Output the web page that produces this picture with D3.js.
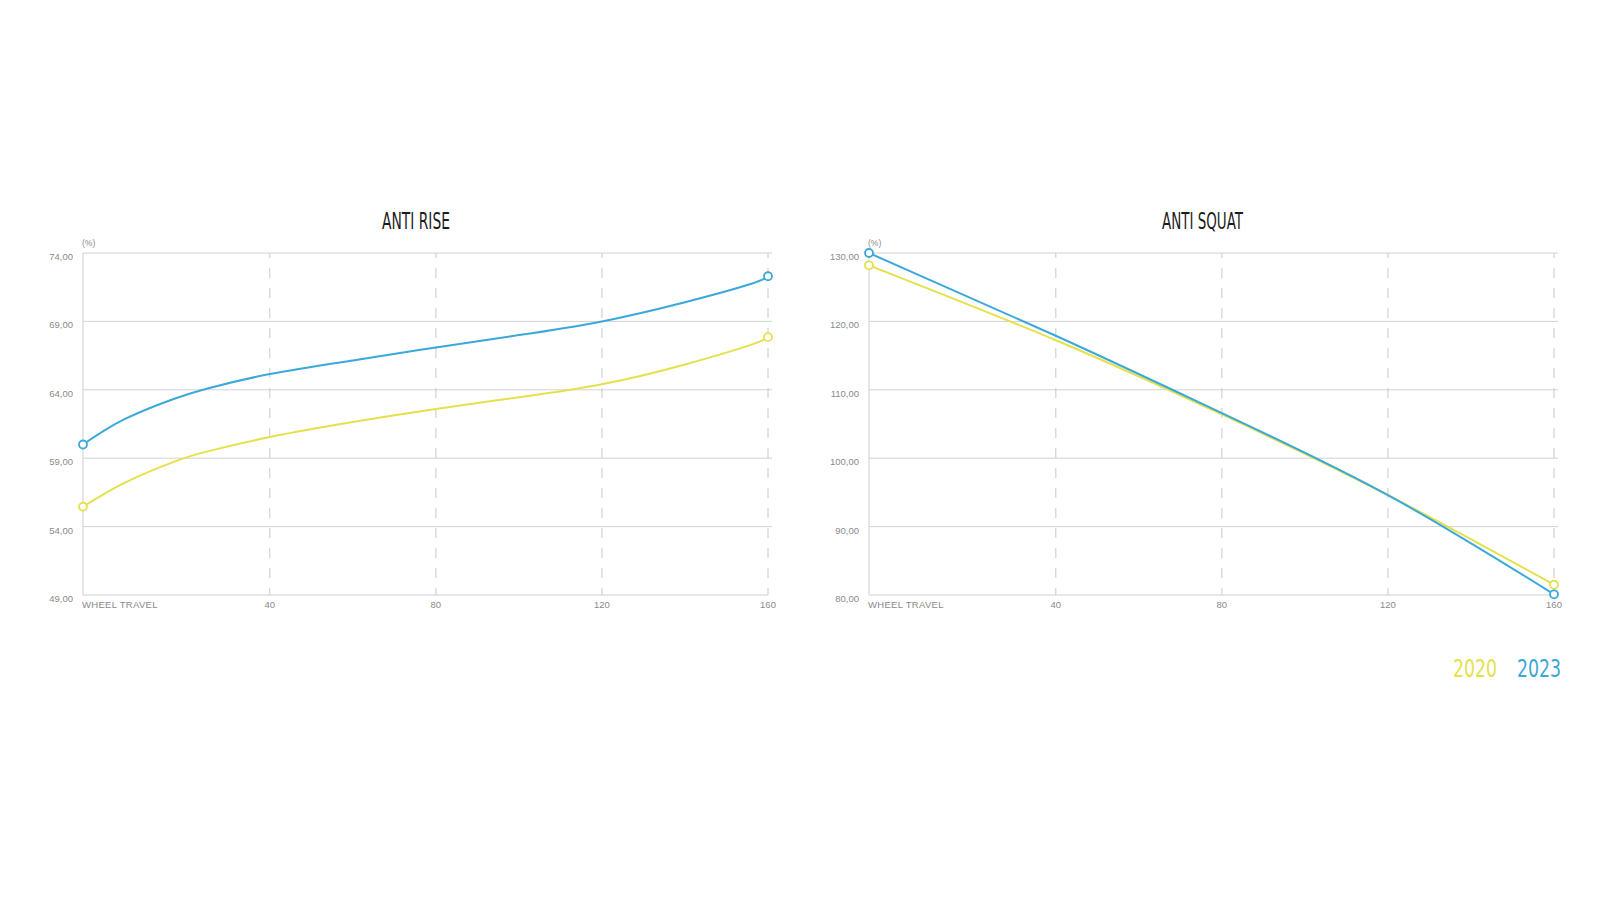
<!DOCTYPE html>
<html>
<head>
<meta charset="utf-8">
<script src="https://cdn.jsdelivr.net/npm/d3@7"></script>
<style>
  body { margin: 0; background: #fff; }
  svg { display: block; }
</style>
</head>
<body>
<script>
let w = 1600;
let h = 900;

let riseTravel = [-5, 5, 17, 25, 40, 60, 80, 100, 120, 140, 156, 160];
let rise2020 = [55.45, 57.2, 58.75, 59.5, 60.55, 61.65, 62.6, 63.45, 64.4, 65.85, 67.3, 67.85];
let rise2023 = [60.0, 61.85, 63.35, 64.1, 65.15, 66.15, 67.1, 68.0, 69.0, 70.4, 71.75, 72.3];

let squatTravel = [-5, 40, 80, 120, 160];
let squat2020 = [128.2, 117.25, 106.4, 94.6, 81.5];
let squat2023 = [130, 117.9, 106.6, 94.6, 80.1];

let xTicks = [40, 80, 120, 160];
let riseTicks = [49, 54, 59, 64, 69, 74];
let squatTicks = [80, 90, 100, 110, 120, 130];

let years = ["2020", "2023"];
let colors = { "2020": "#e4e14c", "2023": "#3ba8da" };

let fmt = d3.formatLocale({ decimal: ",", thousands: ".", grouping: [3], currency: ["", ""] }).format(".2f");

let svg = d3.select("body")
  .append("svg")
  .attr("width", w)
  .attr("height", h);

let condensed = "'Liberation Sans Narrow', 'DejaVu Sans Condensed', 'Liberation Sans', sans-serif";
let small = "'Liberation Sans', Arial, sans-serif";

function drawChart(opts) {
  let g = svg.append("g");

  let xScale = d3.scaleLinear()
    .domain([-5, 160])
    .range([opts.left, opts.left + 685]);

  let yScale = d3.scaleLinear()
    .domain(d3.extent(opts.yTicks))
    .range([595, 253]);

  let x0 = xScale.range()[0];
  let x1 = xScale.range()[1];

  // horizontal grid
  g.selectAll(".grid")
    .data(opts.yTicks)
    .enter()
    .append("line")
    .attr("x1", x0)
    .attr("x2", d => d == opts.yTicks[0] ? x1 : x1 + 4)
    .attr("y1", d => yScale(d))
    .attr("y2", d => yScale(d))
    .attr("stroke", "#d2d2d2")
    .attr("stroke-width", 1);

  // y labels sit just under each grid line
  g.selectAll(".ylab")
    .data(opts.yTicks)
    .enter()
    .append("text")
    .text(d => fmt(d))
    .attr("x", x0 - 10)
    .attr("y", d => yScale(d) + 7)
    .attr("text-anchor", "end")
    .attr("font-family", small)
    .attr("font-size", "9.5px")
    .attr("fill", "#8a8a8a");

  // dashed travel lines
  g.selectAll(".vdash")
    .data(xTicks)
    .enter()
    .append("line")
    .attr("x1", d => xScale(d))
    .attr("x2", d => xScale(d))
    .attr("y1", yScale.range()[1])
    .attr("y2", yScale.range()[0])
    .attr("stroke", "#c8c8c8")
    .attr("stroke-width", 1)
    .attr("stroke-dasharray", "10,10")
    .attr("stroke-dashoffset", 5);

  // left axis
  g.append("line")
    .attr("x1", x0).attr("x2", x0)
    .attr("y1", yScale.range()[1]).attr("y2", yScale.range()[0])
    .attr("stroke", "#cfcfcf");

  // x labels
  g.selectAll(".xlab")
    .data(xTicks)
    .enter()
    .append("text")
    .text(d => d)
    .attr("x", d => xScale(d))
    .attr("y", 608)
    .attr("text-anchor", "middle")
    .attr("font-family", small)
    .attr("font-size", "9.5px")
    .attr("fill", "#8a8a8a");

  g.append("text")
    .text("WHEEL TRAVEL")
    .attr("x", x0 - 1)
    .attr("y", 608)
    .attr("font-family", small)
    .attr("font-size", "9.5px")
    .attr("letter-spacing", "0.3px")
    .attr("fill", "#8a8a8a");

  g.append("text")
    .text("(%)")
    .attr("x", x0 - 1)
    .attr("y", 246)
    .attr("font-family", small)
    .attr("font-size", "8.5px")
    .attr("fill", "#8a8a8a");

  // title
  g.append("text")
    .text(opts.title)
    .attr("x", opts.titleX)
    .attr("y", 229)
    .attr("textLength", opts.titleW)
    .attr("lengthAdjust", "spacingAndGlyphs")
    .attr("font-family", condensed)
    .attr("font-size", "23px")
    .attr("fill", "#1c1c1c");

  let line = d3.line()
    .x(d => xScale(d[0]))
    .y(d => yScale(d[1]))
    .curve(d3.curveNatural);

  years.forEach(yr => {
    let pts = opts.travel.map((t, i) => [t, opts.series[yr][i]]);
    g.append("path")
      .datum(pts)
      .attr("d", line)
      .attr("fill", "none")
      .attr("stroke", colors[yr])
      .attr("stroke-width", 2);

    g.selectAll(".dot" + yr)
      .data([pts[0], pts[pts.length - 1]])
      .enter()
      .append("circle")
      .attr("cx", d => xScale(d[0]))
      .attr("cy", d => yScale(d[1]))
      .attr("r", 4)
      .attr("fill", "#fff")
      .attr("stroke", colors[yr])
      .attr("stroke-width", 1.8);
  });
}

drawChart({
  left: 83,
  title: "ANTI RISE",
  titleX: 382,
  titleW: 68,
  yTicks: riseTicks,
  travel: riseTravel,
  series: { "2020": rise2020, "2023": rise2023 }
});

drawChart({
  left: 869,
  title: "ANTI SQUAT",
  titleX: 1162,
  titleW: 81,
  yTicks: squatTicks,
  travel: squatTravel,
  series: { "2020": squat2020, "2023": squat2023 }
});

// legend
svg.selectAll(".legend")
  .data(years)
  .enter()
  .append("text")
  .text(d => d)
  .attr("x", (d, i) => 1453 + i * 64)
  .attr("y", 677)
  .attr("textLength", 44)
  .attr("lengthAdjust", "spacingAndGlyphs")
  .attr("font-family", condensed)
  .attr("font-size", "25px")
  .attr("fill", d => colors[d]);
</script>
</body>
</html>
